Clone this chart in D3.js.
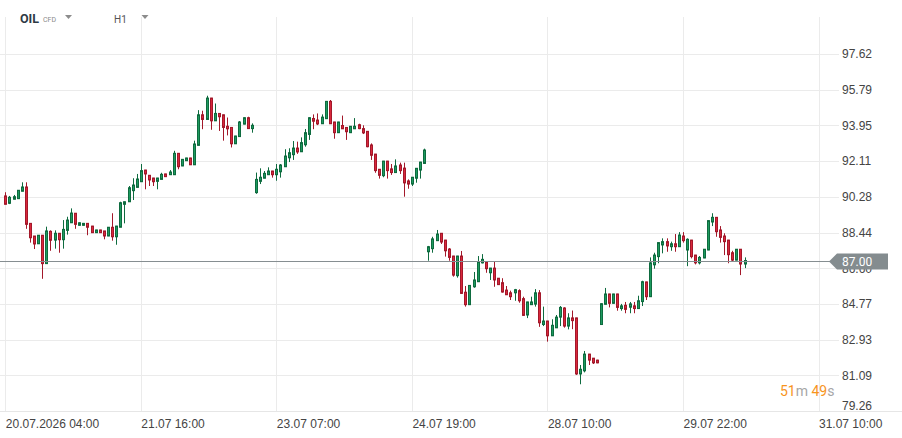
<!DOCTYPE html>
<html>
<head>
<meta charset="utf-8">
<script src="https://cdn.jsdelivr.net/npm/d3@7"></script>
<style>
  body { margin: 0; background: #fff; }
  svg { display: block; font-family: Roboto, "Noto Sans", sans-serif; }
</style>
</head>
<body>
<div id="chart"></div>
<script>

// OHLC, one entry per H1 candle
const opens = [
  90.32, 89.94, 90.15, 90.18, 90.56, 90.78, 88.91, 88.26, 87.86, 88.30,
  86.84, 88.50, 88.05, 88.40, 88.07, 88.55, 88.94, 89.43, 88.81, 88.81,
  88.91, 88.77, 88.43, 88.57, 88.52, 88.26, 88.71, 88.22, 88.71, 89.89,
  90.02, 90.59, 90.76, 91.05, 91.65, 91.38, 91.24, 91.07, 91.17, 91.45,
  91.41, 91.41, 92.51, 91.86, 92.13, 92.27, 91.92, 92.92, 94.49, 94.25,
  95.35, 94.18, 94.56, 94.49, 93.90, 93.84, 93.00, 93.37, 94.01, 94.34,
  93.78, 90.49, 91.07, 91.23, 91.41, 91.60, 91.41, 91.56, 91.82, 92.28,
  92.44, 92.78, 92.59, 92.95, 93.48, 94.30, 94.22, 94.03, 94.29, 95.18,
  94.12, 93.57, 93.94, 93.84, 93.57, 93.77, 93.98, 93.78, 93.64, 92.94,
  92.47, 91.69, 91.36, 92.11, 91.71, 91.52, 91.91, 91.75, 91.09, 90.93,
  91.23, 91.65, 91.99, 87.45, 87.61, 88.02, 88.40, 88.05, 87.59, 87.23,
  86.22, 87.23, 85.37, 84.73, 85.65, 85.91, 86.88, 86.94, 86.37, 86.61,
  86.09, 85.86, 85.48, 85.34, 85.34, 85.45, 85.04, 84.20, 84.73, 84.76,
  85.34, 83.71, 83.89, 83.13, 83.54, 84.09, 84.56, 83.63, 84.05, 84.05,
  81.17, 81.33, 82.19, 81.98, 81.88, 83.71, 84.75, 85.28, 84.80, 85.28,
  84.53, 84.70, 84.60, 84.67, 84.53, 84.89, 85.90, 85.14, 86.78, 87.20,
  87.80, 87.97, 87.71, 87.86, 87.71, 88.26, 87.54, 88.05, 87.28, 86.88,
  87.13, 87.54, 88.98, 89.22, 88.57, 88.26, 88.05, 87.40, 87.02, 87.58,
  86.82
];
const highs = [
  90.51, 90.32, 90.37, 90.62, 91.02, 91.02, 88.91, 88.26, 88.31, 88.30,
  88.74, 88.55, 88.55, 88.40, 89.08, 89.25, 89.68, 89.43, 88.96, 88.93,
  88.91, 88.78, 88.58, 88.58, 88.52, 88.72, 89.43, 88.78, 90.02, 90.03,
  90.83, 91.23, 91.45, 91.96, 91.66, 91.39, 91.25, 91.25, 91.51, 91.46,
  91.65, 92.64, 92.52, 92.21, 92.28, 92.28, 93.16, 94.73, 94.70, 95.47,
  95.36, 95.07, 94.57, 94.50, 94.35, 93.85, 93.41, 94.17, 94.36, 94.39,
  94.05, 91.52, 91.74, 91.60, 91.79, 91.61, 91.96, 91.96, 92.72, 92.77,
  93.14, 93.11, 93.33, 93.76, 94.36, 94.51, 94.56, 94.51, 95.20, 95.25,
  94.13, 94.13, 94.45, 93.85, 93.91, 94.32, 94.03, 93.95, 93.65, 93.02,
  92.48, 91.70, 92.12, 92.12, 91.96, 92.20, 92.03, 92.03, 91.17, 91.29,
  91.75, 92.07, 92.75, 87.75, 88.22, 88.57, 88.41, 88.06, 87.64, 87.24,
  87.24, 87.49, 85.69, 85.73, 86.41, 87.23, 87.33, 86.95, 86.62, 86.94,
  86.10, 86.09, 85.69, 85.45, 85.54, 85.52, 85.14, 84.88, 85.14, 85.53,
  85.48, 84.63, 83.90, 83.98, 84.20, 84.66, 84.60, 84.29, 84.43, 84.06,
  81.63, 82.35, 82.20, 81.99, 81.90, 84.80, 85.59, 85.29, 85.29, 85.29,
  84.77, 84.87, 84.87, 84.87, 85.19, 85.96, 85.91, 87.16, 87.40, 87.93,
  88.14, 88.14, 87.97, 88.36, 88.46, 88.46, 88.14, 88.06, 87.29, 87.23,
  87.59, 89.06, 89.43, 89.23, 88.77, 88.40, 88.06, 87.50, 87.59, 87.59,
  87.16
];
const lows = [
  89.89, 89.90, 90.15, 90.16, 90.56, 88.63, 87.92, 87.59, 87.85, 86.06,
  86.84, 87.50, 87.61, 87.40, 87.61, 88.33, 88.94, 88.63, 88.80, 88.80,
  88.30, 88.42, 88.42, 88.42, 88.09, 88.25, 88.02, 87.81, 88.71, 88.91,
  90.02, 90.11, 90.76, 91.05, 90.66, 90.83, 90.83, 90.66, 91.17, 91.30,
  91.41, 91.41, 91.69, 91.85, 92.12, 91.91, 91.92, 92.92, 93.75, 94.25,
  93.72, 94.18, 93.66, 93.16, 93.43, 92.81, 92.99, 93.37, 94.00, 93.78,
  93.57, 90.43, 90.93, 91.23, 91.41, 91.26, 91.10, 91.26, 91.82, 92.06,
  92.17, 92.48, 92.59, 92.85, 93.20, 93.75, 93.96, 94.03, 94.29, 94.03,
  93.26, 93.56, 93.76, 93.20, 93.56, 93.76, 93.75, 93.50, 92.82, 92.17,
  91.51, 91.21, 91.28, 91.21, 91.40, 91.51, 91.45, 90.28, 90.69, 90.83,
  91.00, 91.21, 91.99, 86.99, 87.40, 88.02, 87.85, 87.20, 86.99, 86.17,
  86.12, 85.28, 84.63, 84.72, 85.60, 85.91, 86.85, 86.37, 86.00, 85.65,
  85.75, 85.35, 85.23, 84.97, 84.93, 84.83, 84.15, 84.04, 84.72, 84.63,
  83.59, 83.63, 82.83, 83.12, 83.54, 83.63, 83.55, 83.46, 83.47, 81.12,
  80.64, 81.25, 81.63, 81.68, 81.72, 83.70, 84.75, 84.59, 84.79, 84.42,
  84.42, 84.29, 84.29, 84.29, 84.52, 84.66, 84.97, 85.14, 86.58, 86.86,
  87.37, 87.45, 87.50, 87.45, 87.70, 87.92, 86.71, 87.11, 86.80, 86.80,
  87.12, 87.53, 88.77, 88.22, 87.92, 87.28, 86.86, 86.97, 87.01, 86.25,
  86.61
];
const closes = [
  89.89, 90.25, 90.28, 90.61, 90.78, 88.86, 88.17, 87.85, 88.30, 86.84,
  88.52, 88.04, 88.40, 88.07, 88.60, 89.08, 89.44, 88.86, 88.94, 88.91,
  88.71, 88.43, 88.57, 88.43, 88.26, 88.71, 88.22, 88.77, 89.97, 90.02,
  90.74, 90.88, 91.19, 91.62, 91.45, 91.14, 91.05, 91.24, 91.43, 91.31,
  91.55, 92.51, 91.82, 92.20, 92.27, 91.92, 92.99, 94.49, 94.25, 95.35,
  94.18, 94.56, 94.39, 93.84, 93.77, 93.00, 93.40, 94.12, 94.34, 93.78,
  93.95, 91.17, 91.28, 91.48, 91.60, 91.41, 91.69, 91.91, 92.37, 92.54,
  92.78, 92.58, 93.06, 93.57, 94.34, 94.16, 94.02, 94.37, 95.18, 94.03,
  93.57, 94.12, 93.77, 93.62, 93.90, 93.90, 93.78, 93.56, 92.85, 92.41,
  91.62, 91.38, 92.11, 91.62, 91.52, 91.86, 91.62, 90.99, 90.93, 91.28,
  91.74, 92.06, 92.68, 87.71, 88.11, 88.36, 87.95, 87.50, 87.16, 86.25,
  87.23, 85.31, 84.73, 85.72, 86.00, 86.94, 87.06, 86.58, 86.61, 86.00,
  85.76, 85.38, 85.24, 85.14, 85.50, 84.93, 84.18, 84.87, 84.87, 85.34,
  83.80, 83.89, 83.13, 83.67, 84.09, 84.59, 83.63, 84.05, 83.91, 81.17,
  81.41, 82.19, 81.88, 81.74, 81.74, 84.78, 85.28, 84.80, 85.28, 84.59,
  84.67, 84.49, 84.77, 84.53, 84.93, 85.91, 85.14, 86.88, 87.28, 87.92,
  87.97, 87.75, 87.86, 87.71, 88.31, 88.02, 88.09, 87.20, 86.88, 87.16,
  87.58, 89.05, 89.22, 88.48, 88.19, 87.97, 87.30, 87.02, 87.58, 86.82,
  87.00
];

const priceTicks = [79.26, 81.09, 82.93, 84.77, 86.60, 88.44, 90.28, 92.11, 93.95, 95.79, 97.62];
const timeTickIdx = [0, 33, 66, 99, 132, 165, 198];
const timeTickLabels = ["20.07.2026 04:00", "21.07 16:00", "23.07 07:00", "24.07 19:00",
                        "28.07 10:00", "29.07 22:00", "31.07 10:00"];
const lastPrice = 87.00;

var width = 902, height = 438;

var svg = d3.select("#chart").append("svg")
    .attr("width", width)
    .attr("height", height);

const x = d3.scaleLinear().domain([0, 198]).range([5.3, 818.5]);
const y = d3.scaleLinear().domain([79.26, 97.62]).range([411.1, 53.9]);

const candles = opens.map((o, i) => ({ i, o, h: highs[i], l: lows[i], c: closes[i] }));

// grid
const grid = svg.append("g");
grid.selectAll(".hgrid").data(priceTicks).enter().append("line")
    .attr("x1", 0).attr("x2", 839)
    .attr("y1", d => Math.round(y(d)) + 0.5).attr("y2", d => Math.round(y(d)) + 0.5)
    .attr("stroke", "#ebebeb");
grid.selectAll(".vgrid").data(timeTickIdx).enter().append("line")
    .attr("x1", d => Math.round(x(d)) + 0.5).attr("x2", d => Math.round(x(d)) + 0.5)
    .attr("y1", 17).attr("y2", 411)
    .attr("stroke", "#ebebeb");

// bottom axis
const xAxis = d3.axisBottom(x)
    .tickValues(timeTickIdx)
    .tickSize(0)
    .tickFormat((d, k) => timeTickLabels[k]);
const gx = svg.append("g").attr("transform", "translate(0,411)").call(xAxis);
gx.select(".domain").attr("stroke", "#e6e6e6").attr("d", "M0,0.5H902");
gx.selectAll("text")
    .attr("text-anchor", "start")
    .attr("dx", 0)
    .attr("y", 8)
    .attr("fill", "#444")
    .style("font-size", "12px");

// right axis
const yAxis = d3.axisRight(y).tickValues(priceTicks).tickSize(0).tickFormat(d3.format(".2f"));
const gy = svg.append("g").attr("transform", "translate(840,0)").call(yAxis);
gy.select(".domain").remove();
gy.selectAll("text")
    .attr("x", 2)
    .attr("fill", "#444")
    .style("font-size", "12px")
    .attr("dy", d => d === 79.26 ? "-0.1em" : "0.32em");

// candles
const up = "#1d9a5f", upLine = "#0e6b3f", down = "#d9283c", downLine = "#a3182a";
const cg = svg.append("g");
cg.selectAll(".wick").data(candles).enter().append("line")
    .attr("x1", d => Math.round(x(d.i)) + 0.5).attr("x2", d => Math.round(x(d.i)) + 0.5)
    .attr("y1", d => y(d.h)).attr("y2", d => y(d.l))
    .attr("stroke", d => d.c >= d.o ? upLine : downLine);
cg.selectAll(".body").data(candles).enter().append("rect")
    .attr("x", d => Math.round(x(d.i)) - 0.5)
    .attr("width", 2)
    .attr("y", d => y(Math.max(d.o, d.c)))
    .attr("height", d => Math.max(1, y(Math.min(d.o, d.c)) - y(Math.max(d.o, d.c))))
    .attr("fill", d => d.c >= d.o ? up : down)
    .attr("stroke", d => d.c >= d.o ? upLine : downLine)
    .attr("stroke-width", 1);

// current price line + tag (sits over the 86.60 label, as in the platform)
const py = Math.round(y(lastPrice)) + 0.5;
svg.append("line")
    .attr("x1", 0).attr("x2", 832)
    .attr("y1", py).attr("y2", py)
    .attr("stroke", "#868e91").attr("stroke-width", 1.2);
svg.append("path")
    .attr("d", `M829,${py} L837,${py - 8} L888,${py - 8} L888,${py + 8} L837,${py + 8} Z`)
    .attr("fill", "#848c8f");
svg.append("text")
    .attr("x", 842).attr("y", py + 4.5)
    .attr("fill", "#fff")
    .style("font-size", "12px")
    .text(lastPrice.toFixed(2));

// header
const hdr = svg.append("g");
hdr.append("text").attr("x", 20).attr("y", 23)
    .attr("fill", "#2e3a44").style("font-size", "12.5px").style("font-weight", "bold")
    .text("OIL");
hdr.append("text").attr("x", 43).attr("y", 22)
    .attr("fill", "#8a8a8a").style("font-size", "7px")
    .text("CFD");
hdr.append("path").attr("d", "M65,15 L72,15 L68.5,19 Z").attr("fill", "#8c8c8c");
hdr.append("text").attr("x", 114).attr("y", 23)
    .attr("fill", "#555").style("font-size", "10px")
    .text("H1");
hdr.append("path").attr("d", "M141.5,15 L148.5,15 L145,19 Z").attr("fill", "#8c8c8c");

// countdown
const cd = svg.append("text").attr("x", 780).attr("y", 396).style("font-size", "14px");
cd.append("tspan").attr("fill", "#f7941d").text("51");
cd.append("tspan").attr("fill", "#a6a6a6").text("m ");
cd.append("tspan").attr("fill", "#f7941d").text("49");
cd.append("tspan").attr("fill", "#a6a6a6").text("s");

</script>
</body>
</html>
